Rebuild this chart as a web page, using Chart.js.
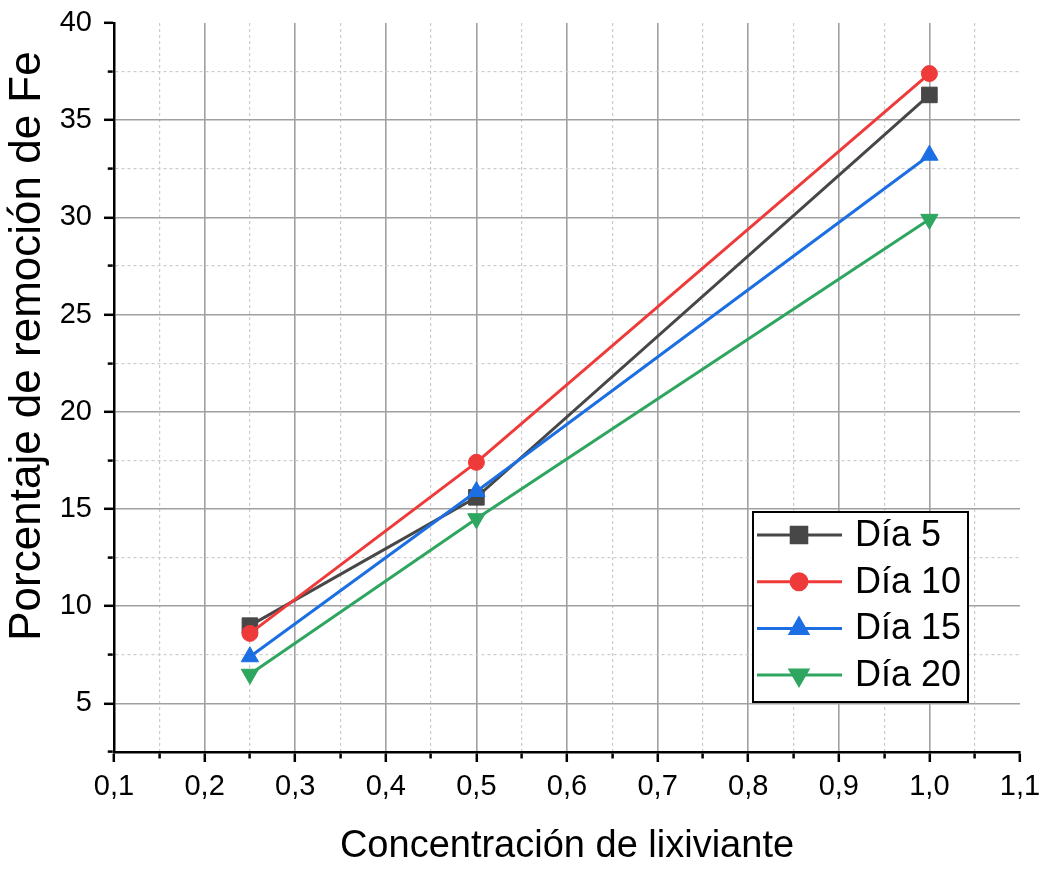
<!DOCTYPE html>
<html lang="es">
<head>
    <meta charset="UTF-8">
    <title>Porcentaje de remoción de Fe</title>
    <script src="https://cdn.jsdelivr.net/npm/chart.js"></script>
    <style>
        body { margin: 0; background: #fff; }
        canvas { display: block; }
    </style>
</head>
<body>

<canvas id="feChart" width="1048" height="869"></canvas>

<script>
    // Data
    const concentracion = [0.25, 0.5, 1.0];
    const dia5  = [9.0, 15.6, 36.3];
    const dia10 = [8.6, 17.4, 37.4];
    const dia15 = [7.4, 15.9, 33.2];
    const dia20 = [6.5, 14.5, 29.9];
    const seriesNames = ['Día 5', 'Día 10', 'Día 15', 'Día 20'];

    // Axis ticks (major every 0.1 / 5, minor halfway)
    const xMin = 0.1, xMax = 1.1, xStep = 0.05;
    const yMin = 2.5, yMax = 40, yStep = 2.5;

    const toPoints = (ys) => concentracion.map((x, i) => ({ x: x, y: ys[i] }));

    const isMajorX = (v) => Math.round(v * 100) % 10 === 0;
    const isMajorY = (v) => Math.round(v * 10) % 50 === 0;

    function makeSet(label, ys, color, style, radius, rotation, order) {
        return {
            label: label,
            data: toPoints(ys),
            borderColor: color,
            backgroundColor: color,
            borderWidth: 3,
            pointStyle: style,
            pointRadius: radius,
            pointRotation: rotation,
            pointBackgroundColor: color,
            pointBorderColor: color,
            pointBorderWidth: 1,
            tension: 0,
            order: order
        };
    }

    // vertical y title, drawn a bit above the plot centre like the original
    const yTitlePlugin = {
        id: 'yTitle',
        afterDraw(chart) {
            const ctx = chart.ctx;
            ctx.save();
            ctx.translate(28, 346);
            ctx.rotate(-Math.PI / 2);
            ctx.font = '44px "Liberation Sans", Arial, sans-serif';
            ctx.fillStyle = '#000';
            ctx.textAlign = 'center';
            ctx.textBaseline = 'middle';
            ctx.fillText('Porcentaje de remoción de Fe', 0, 0);
            ctx.restore();
        }
    };

    // framed legend in the lower right corner of the plot
    const boxLegendPlugin = {
        id: 'boxLegend',
        afterDraw(chart) {
            const ctx = chart.ctx;
            const left = 753, top = 512, width = 215, height = 190;
            ctx.save();
            ctx.fillStyle = '#fff';
            ctx.fillRect(left, top, width, height);
            ctx.lineWidth = 2;
            ctx.strokeStyle = '#000';
            ctx.strokeRect(left, top, width, height);

            chart.data.datasets.forEach((ds, i) => {
                const y = 535 + i * 46.7;
                ctx.lineWidth = ds.borderWidth;
                ctx.strokeStyle = ds.borderColor;
                ctx.beginPath();
                ctx.moveTo(757, y);
                ctx.lineTo(842, y);
                ctx.stroke();
                ctx.fillStyle = ds.pointBackgroundColor;
                Chart.helpers.drawPoint(ctx, {
                    pointStyle: ds.pointStyle,
                    rotation: ds.pointRotation,
                    radius: ds.pointRadius,
                    borderWidth: 1
                }, 799, y);
                ctx.fillStyle = '#000';
                ctx.font = '36px "Liberation Sans", Arial, sans-serif';
                ctx.textAlign = 'left';
                ctx.textBaseline = 'middle';
                ctx.fillText(ds.label, 855, y + 1);
            });
            ctx.restore();
        }
    };

    const tickFont = { family: '"Liberation Sans", Arial, sans-serif', size: 29 };

    const ctx = document.getElementById('feChart').getContext('2d');
    const feChart = new Chart(ctx, {
        type: 'line',
        data: {
            datasets: [
                makeSet(seriesNames[0], dia5,  '#474747', 'rect',     11, 0,   3),
                makeSet(seriesNames[1], dia10, '#ef3a3a', 'circle',    8, 0,   2),
                makeSet(seriesNames[2], dia15, '#1c6fe3', 'triangle', 10, 0,   1),
                makeSet(seriesNames[3], dia20, '#2fa660', 'triangle', 10, 180, 0)
            ]
        },
        options: {
            responsive: false,
            animation: false,
            devicePixelRatio: 1,
            layout: { autoPadding: false, padding: { top: 23, right: 28, left: 0, bottom: 0 } },
            plugins: {
                legend: { display: false },
                tooltip: { enabled: false }
            },
            scales: {
                x: {
                    type: 'linear',
                    min: xMin,
                    max: xMax,
                    afterFit: (scale) => {
                        scale.height = 117;
                        scale.paddingLeft = 0;
                        scale.paddingRight = 0;
                    },
                    ticks: {
                        stepSize: xStep,
                        autoSkip: false,
                        maxRotation: 0,
                        padding: 8,
                        color: '#000',
                        font: tickFont,
                        callback: (v) => isMajorX(v) ? v.toFixed(1).replace('.', ',') : ''
                    },
                    grid: {
                        color: (c) => !c.tick || c.tick.value >= xMax - 1e-9 ? 'rgba(0,0,0,0)'
                            : (isMajorX(c.tick.value) ? '#a0a0a0' : '#cccccc'),
                        lineWidth: (c) => c.tick && isMajorX(c.tick.value) ? 1.6 : 1.2,
                        tickLength: 10,
                        tickWidth: 2.5,
                        tickColor: '#000',
                        tickBorderDash: (c) => c.tick && isMajorX(c.tick.value) ? [] : [5, 100],
                        tickBorderDashOffset: 0
                    },
                    border: {
                        color: '#000',
                        width: 2.5,
                        dash: (c) => c.tick && !isMajorX(c.tick.value) ? [3, 3] : []
                    },
                    title: {
                        display: true,
                        text: 'Concentración de lixiviante',
                        color: '#000',
                        font: { family: '"Liberation Sans", Arial, sans-serif', size: 38 },
                        padding: { top: 0, bottom: 0 }
                    }
                },
                y: {
                    min: yMin,
                    max: yMax,
                    afterFit: (scale) => {
                        scale.width = 114;
                        scale.paddingTop = 0;
                        scale.paddingBottom = 0;
                    },
                    ticks: {
                        stepSize: yStep,
                        autoSkip: false,
                        padding: 12,
                        color: '#000',
                        font: tickFont,
                        callback: (v) => isMajorY(v) ? String(v) : ''
                    },
                    grid: {
                        color: (c) => !c.tick || c.tick.value >= yMax - 1e-9 ? 'rgba(0,0,0,0)'
                            : (isMajorY(c.tick.value) ? '#a0a0a0' : '#cccccc'),
                        lineWidth: (c) => c.tick && isMajorY(c.tick.value) ? 1.6 : 1.2,
                        tickLength: 10,
                        tickWidth: 2.5,
                        tickColor: '#000',
                        tickBorderDash: (c) => c.tick && isMajorY(c.tick.value) ? [] : [5, 3.75],
                        tickBorderDashOffset: (c) => c.tick && isMajorY(c.tick.value) ? 0 : 5
                    },
                    border: {
                        color: '#000',
                        width: 2.5,
                        dash: (c) => c.tick && !isMajorY(c.tick.value) ? [3, 3] : []
                    }
                }
            }
        },
        plugins: [yTitlePlugin, boxLegendPlugin]
    });
</script>

</body>
</html>
